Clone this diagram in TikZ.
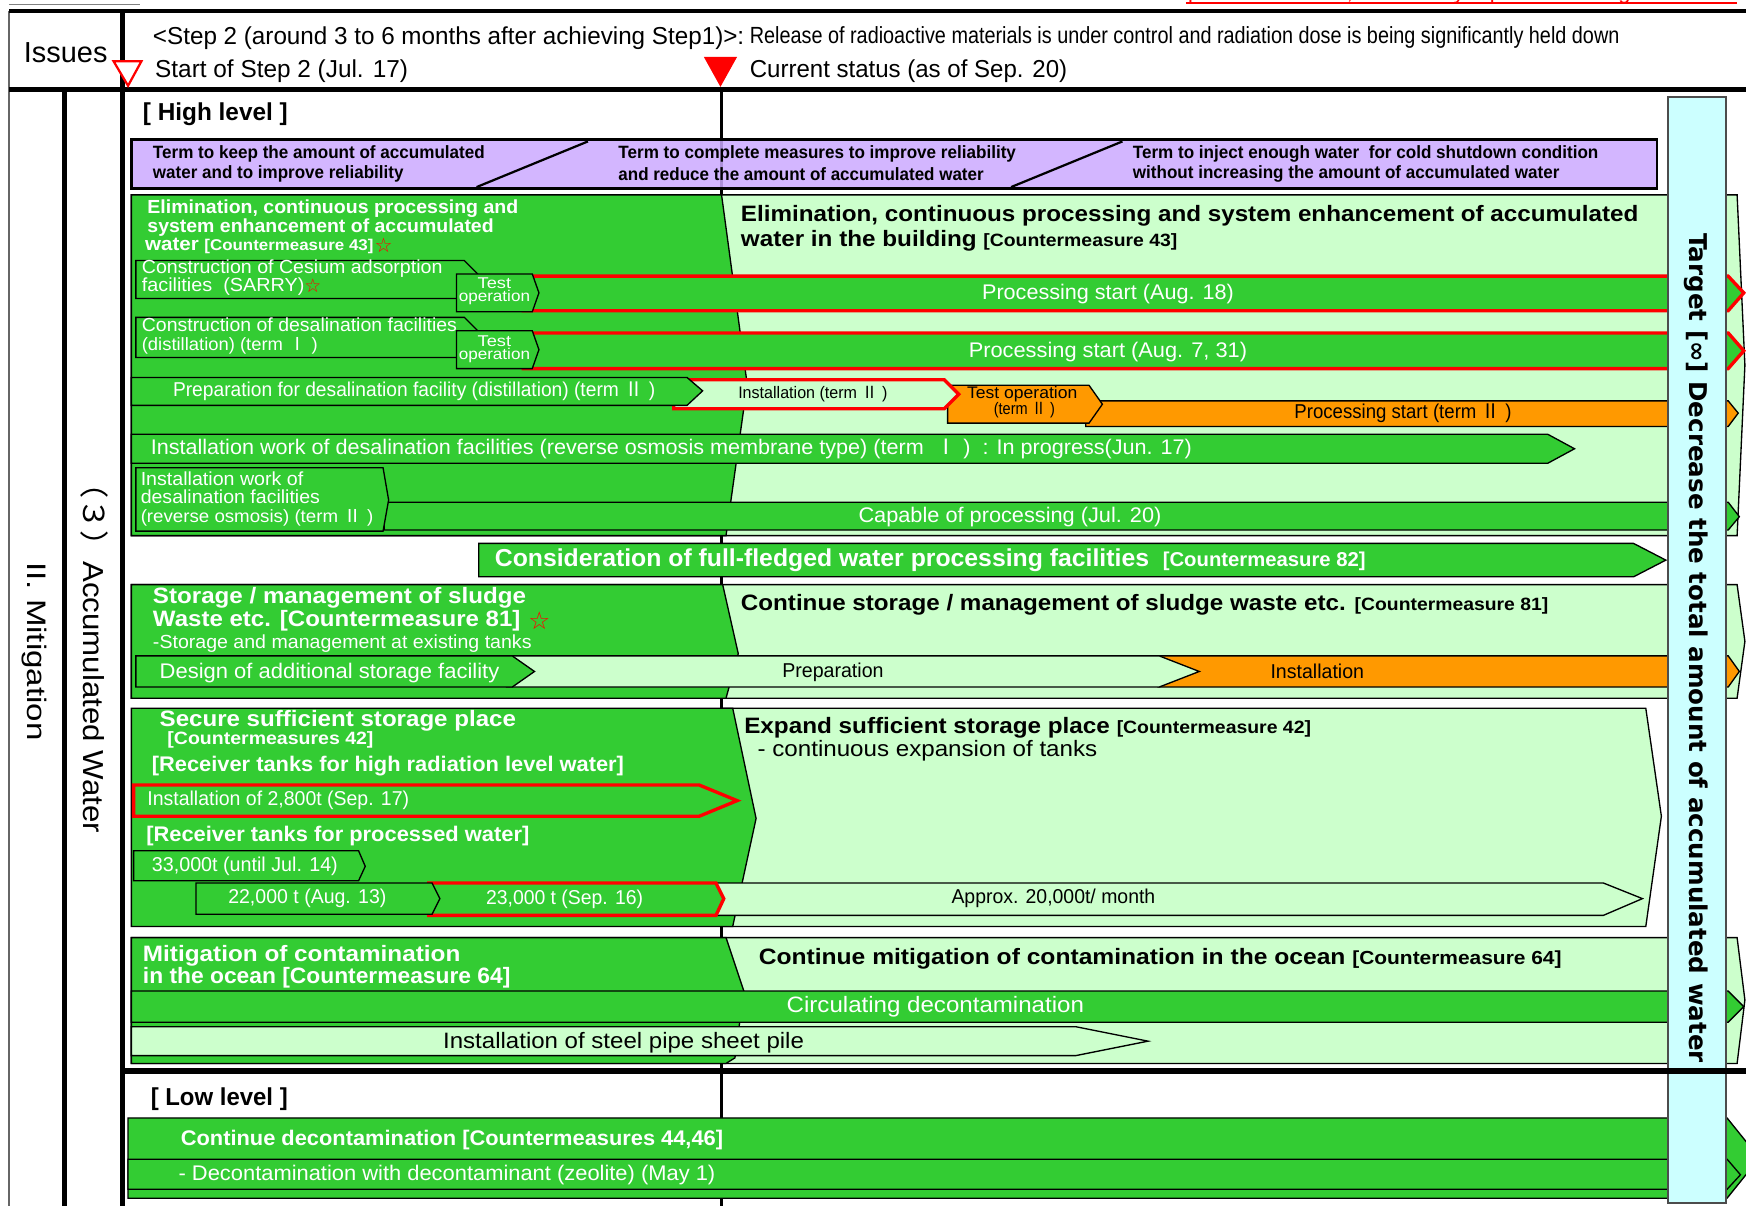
\documentclass[tikz,border=0pt]{standalone}
\usepackage{fontspec}
\usepackage{graphicx}
\setmainfont{Liberation Sans}
\newfontfamily\dvf{DejaVu Sans}
\newfontfamily\cjkf{Noto Sans CJK JP}
\newlength\upx \setlength\upx{0.5pt}
\newcommand\FW[2]{\resizebox{#1\upx}{\height}{#2}}
\newcommand\fsz[1]{\fontsize{#1}{#1}\selectfont}
\newcommand\rI{{\cjkf Ⅰ}}
\newcommand\rII{{\cjkf Ⅱ}}
\newcommand\rstar{{\dvf\color{red}☆}}
\definecolor{dg}{RGB}{51,204,51}
\definecolor{lg}{RGB}{204,255,204}
\definecolor{og}{RGB}{255,153,0}
\definecolor{cy}{RGB}{204,255,255}
\definecolor{pu}{RGB}{204,170,255}
\tikzset{
  ol/.style={draw=black,line width=0.6pt},
  dgf/.style={fill=dg,ol},
  lgf/.style={fill=lg,ol},
  ogf/.style={fill=og,ol},
  redf/.style={draw=red,line width=1.5pt},
  wt/.style={text=white,inner sep=0pt,anchor=west},
  kt/.style={text=black,inner sep=0pt,anchor=west},
  wc/.style={text=white,inner sep=0pt,anchor=center},
  kc/.style={text=black,inner sep=0pt,anchor=center},
}
\begin{document}
\begin{tikzpicture}[x=0.5pt,y=-0.5pt]
\useasboundingbox (0,0) rectangle (1568,1083);
\fill[white] (0,0) rectangle (1568,1083);

% red note at the very top (cut off)
\node[kc,anchor=south,text=red,font=\fsz{9}] (note) at (1312,4) {\FW{490}{previous version, {\dvf ☆}: already reported to the government}};
\draw[red,line width=0.8pt] (1065,3)--(1560,3);

% centre time line
\draw[line width=1.4pt] (648,80)--(648,1083);

% purple term band
\path[fill=pu,fill opacity=0.85,draw=black,line width=1.2pt] (118,125) rectangle (1488,169);
\draw[line width=1pt] (528,127)--(428,168);
\draw[line width=1pt] (1008,127)--(908,168);

% ===== Section 1 =====
\path[lgf] (118,175)--(1560,175)--(1567,328)--(1560,481)--(118,481)--cycle;
\path[dgf] (118,175)--(648,175)--(671,345)--(652,481)--(118,481)--cycle;
% row A
\path[dgf] (122,234)--(417,234)--(430,247)--(430,268)--(122,268)--cycle;
\path[fill=dg,redf] (470,248)--(1552,248)--(1566,263)--(1552,279)--(470,279)--cycle;
\path[dgf] (410,246)--(478,246)--(484,263)--(478,280)--(410,280)--cycle;
% row B
\path[dgf] (122,285)--(417,285)--(430,298)--(430,321)--(122,321)--cycle;
\path[fill=dg,redf] (470,299)--(1552,299)--(1566,315)--(1552,331)--(470,331)--cycle;
\path[dgf] (410,297)--(478,297)--(484,314)--(478,331)--(410,331)--cycle;
% row C
\path[ogf] (975,360)--(1552,360)--(1561,371)--(1552,383)--(975,383)--cycle;
\path[ogf] (851,346)--(978,346)--(990,363)--(978,380)--(851,380)--cycle;
\path[fill=lg,redf] (605,341)--(848,341)--(861,354)--(848,367)--(605,367)--cycle;
\path[dgf] (118,339)--(617,339)--(631,351)--(617,364)--(118,364)--cycle;
% row D
\path[dgf] (118,390)--(1390,390)--(1414,403)--(1390,416)--(118,416)--cycle;
% row E
\path[dgf] (345,451)--(1552,451)--(1562,464)--(1552,476)--(345,476)--cycle;
\path[dgf] (122,420)--(344,420)--(349,449)--(344,477)--(122,477)--cycle;

% ===== Consideration =====
\path[dgf] (430,488)--(1467,488)--(1496,503)--(1467,518)--(430,518)--cycle;

% ===== Section 2 =====
\path[lgf] (118,525)--(1560,525)--(1567,576)--(1560,627)--(118,627)--cycle;
\path[dgf] (118,525)--(649,525)--(663,587)--(652,627)--(118,627)--cycle;
\path[ogf] (1040,589)--(1552,589)--(1562,603)--(1552,617)--(1040,617)--cycle;
\path[lgf] (455,589)--(1041,589)--(1077,603)--(1041,617)--(455,617)--cycle;
\path[dgf] (122,589)--(460,589)--(480,603)--(460,617)--(122,617)--cycle;

% ===== Section 3 =====
\path[lgf] (650,636)--(1478,636)--(1492,733)--(1478,832)--(650,832)--cycle;
\path[dgf] (118,636)--(658,636)--(679,735)--(658,832)--(118,832)--cycle;
\path[fill=dg,redf] (120,705)--(628,705)--(662,719)--(628,733)--(120,733)--cycle;
\path[dgf] (120,764)--(322,764)--(328,778)--(322,791)--(120,791)--cycle;
\path[lgf] (640,793)--(1440,793)--(1475,807)--(1440,822)--(640,822)--cycle;
\path[fill=dg,redf] (385,793)--(643,793)--(650,807)--(643,822)--(385,822)--cycle;
\path[dgf] (176,793)--(388,793)--(395,807)--(388,821)--(176,821)--cycle;

% ===== Section 4 =====
\path[lgf] (118,842)--(1560,842)--(1567,898)--(1560,955)--(118,955)--cycle;
\path[dgf] (118,842)--(652,842)--(668,890)--(660,950)--(652,955)--(118,955)--cycle;
\path[dgf] (118,890)--(1552,890)--(1566,904)--(1552,918)--(118,918)--cycle;
\path[lgf] (118,922)--(966,922)--(1031,935)--(966,948)--(118,948)--cycle;

% ===== Low level =====
\path[dgf] (115,1004)--(1551,1004)--(1580,1040)--(1551,1076)--(115,1076)--cycle;
\path[dgf] (115,1041)--(1551,1041)--(1563,1055)--(1551,1068)--(115,1068)--cycle;

% cyan target column
\path[fill=cy,draw=black!70,line width=0.8pt] (1498,87) rectangle (1550,1080);

% frame
\draw[line width=0.3pt,black!50] (8,4)--(126,4);
\draw[line width=0.6pt,black!60] (8,10)--(8,1083);
\draw[line width=2pt] (8,10)--(1568,10);
\draw[line width=2.2pt] (8,80)--(1568,80);
\draw[line width=2pt] (110,10)--(110,1083);
\draw[line width=2pt] (58,80)--(58,1083);
\draw[line width=2.5pt] (110,962)--(1568,962);

% markers
\path[draw=red,fill=white,line width=1pt] (102,55)--(127,55)--(115,77)--cycle;
\path[fill=red] (632,51)--(662,51)--(647,78)--cycle;

% ===== texts: header =====
\node[kc,font=\fsz{13}] (iss) at (59,47) {\FW{75}{Issues}};
\node[kt,font=\fsz{11}] (h1) at (137,34) {\FW{531}{<Step 2 (around 3 to 6 months after achieving Step1)>:}};
\node[kt,font=\fsz{10.5}] (h2) at (673,34) {\FW{781}{Release of radioactive materials is under control and radiation dose is being significantly held down}};
\node[kt,font=\fsz{11}] (s2) at (139,64) {\FW{227}{Start of Step 2 (Jul. 17)}};
\node[kt,font=\fsz{11}] (cst) at (673,64) {\FW{285}{Current status (as of Sep. 20)}};
\node[kt,font=\bfseries\fsz{11}] (hl) at (128,103) {\FW{130}{[ High level ]}};

% purple
\node[kt,font=\bfseries\fsz{8}] (p1a) at (137,138) {\FW{298}{Term to keep the amount of accumulated}};
\node[kt,font=\bfseries\fsz{8}] (p1b) at (137,156) {\FW{225}{water and to improve reliability}};
\node[kt,font=\bfseries\fsz{8}] (p2a) at (555,138) {\FW{357}{Term to complete measures to improve reliability}};
\node[kt,font=\bfseries\fsz{8}] (p2b) at (555,156) {\FW{328}{and reduce the amount of accumulated water}};
\node[kt,font=\bfseries\fsz{8}] (p3a) at (1017,138) {\FW{418}{Term to inject enough water\ \ for cold shutdown condition}};
\node[kt,font=\bfseries\fsz{8}] (p3b) at (1017,156) {\FW{383}{without increasing the amount of accumulated water}};

% section 1 texts
\node[wt,font=\bfseries\fsz{8.5}] (e1) at (132,187) {\FW{333}{Elimination, continuous processing and}};
\node[wt,font=\bfseries\fsz{8.5}] (e2) at (132,204) {\FW{311}{system enhancement of accumulated}};
\node[wt,font=\bfseries\fsz{8.5}] (e3) at (130,221) {\FW{205}{water {\fsz{7}[Countermeasure 43]}}};
\node[kt,font=\fsz{9}] (e3s) at (336,220) {\rstar};
\node[kt,font=\bfseries\fsz{10}] (E1) at (665,194) {\FW{806}{Elimination, continuous processing and system enhancement of accumulated}};
\node[kt,font=\bfseries\fsz{10}] (E2) at (665,216) {\FW{392}{water in the building {\fsz{8}[Countermeasure 43]}}};

\node[wt,font=\fsz{8.5}] (ca1) at (127,241) {\FW{270}{Construction of Cesium adsorption}};
\node[wt,font=\fsz{8.5}] (ca2) at (127,257) {\FW{146}{facilities\ \ (SARRY)}};
\node[kt,font=\fsz{8.5}] (ca2s) at (273,257) {\rstar};
\node[wc,font=\fsz{7}] (ta1) at (444,254) {\FW{30}{Test}};
\node[wc,font=\fsz{7}] (ta2) at (444,267) {\FW{64}{operation}};
\node[wc,font=\fsz{9.5}] (pa) at (995,264) {\FW{226}{Processing start (Aug. 18)}};

\node[wt,font=\fsz{8.5}] (cb1) at (127,292) {\FW{283}{Construction of desalination facilities}};
\node[wt,font=\fsz{8}] (cb2) at (127,311) {\FW{158}{(distillation) (term \rI\ )}};
\node[wc,font=\fsz{7}] (tb1) at (444,306) {\FW{30}{Test}};
\node[wc,font=\fsz{7}] (tb2) at (444,319) {\FW{64}{operation}};
\node[wc,font=\fsz{9.5}] (pb) at (995,316) {\FW{250}{Processing start (Aug. 7, 31)}};

\node[wt,font=\fsz{9}] (pc) at (155,351) {\FW{433}{Preparation for desalination facility (distillation) (term \rII\ )}};
\node[kc,font=\fsz{7.5}] (ic) at (730,354) {\FW{134}{Installation (term \rII\ )}};
\node[kc,font=\fsz{7.5}] (toc1) at (918,354) {\FW{99}{Test operation}};
\node[kc,font=\fsz{7.5}] (toc2) at (920,368) {\FW{55}{(term \rII\ )}};
\node[kc,font=\fsz{9}] (psc) at (1260,371) {\FW{195}{Processing start (term \rII\ )}};

\node[wt,font=\fsz{9.5}] (rd) at (135,403) {\FW{935}{Installation work of desalination facilities (reverse osmosis membrane type) (term\ \ \rI\ )\ \ : In progress(Jun. 17)}};

\node[wt,font=\fsz{8.5}] (re1) at (126,430) {\FW{146}{Installation work of}};
\node[wt,font=\fsz{8.5}] (re2) at (126,446) {\FW{161}{desalination facilities}};
\node[wt,font=\fsz{8}] (re3) at (126,465) {\FW{209}{(reverse osmosis) (term \rII\ )}};
\node[wc,font=\fsz{9.5}] (cp) at (907,464) {\FW{272}{Capable of processing (Jul. 20)}};

\node[wt,font=\bfseries\fsz{11}] (cf) at (444,503) {\FW{782}{Consideration of full-fledged water processing facilities\ \ {\fsz{9}[Countermeasure 82]}}};

% section 2 texts
\node[wt,font=\bfseries\fsz{10}] (sm1) at (137,537) {\FW{335}{Storage / management of sludge}};
\node[wt,font=\bfseries\fsz{10}] (sm2) at (137,557) {\FW{330}{Waste etc. [Countermeasure 81]}};
\node[kt,font=\fsz{11}] (sm2s) at (474,557) {\rstar};
\node[wt,font=\fsz{8.5}] (sm3) at (137,578) {\FW{340}{-Storage and management at existing tanks}};
\node[kt,font=\bfseries\fsz{10}] (cs2) at (665,543) {\FW{725}{Continue storage / management of sludge waste etc. {\fsz{8}[Countermeasure 81]}}};
\node[wt,font=\fsz{9.5}] (ds) at (143,604) {\FW{305}{Design of additional storage facility}};
\node[kc,font=\fsz{9}] (pr) at (748,604) {\FW{91}{Preparation}};
\node[kc,font=\fsz{9}] (ins) at (1183,603) {\FW{84}{Installation}};

% section 3 texts
\node[wt,font=\bfseries\fsz{10}] (ss1) at (143,647) {\FW{320}{Secure sufficient storage place}};
\node[wt,font=\bfseries\fsz{8}] (ss2) at (150,664) {\FW{185}{[Countermeasures 42]}};
\node[wt,font=\bfseries\fsz{9.5}] (ss3) at (136,688) {\FW{424}{[Receiver tanks for high radiation level water]}};
\node[wt,font=\fsz{9}] (i28) at (132,719) {\FW{235}{Installation of 2,800t (Sep. 17)}};
\node[wt,font=\bfseries\fsz{9.5}] (ss4) at (131,751) {\FW{344}{[Receiver tanks for processed water]}};
\node[wt,font=\fsz{9}] (t33) at (136,778) {\FW{167}{33,000t (until Jul. 14)}};
\node[wc,font=\fsz{9}] (t22) at (276,807) {\FW{142}{22,000 t (Aug. 13)}};
\node[wc,font=\fsz{9}] (t23) at (507,808) {\FW{141}{23,000 t (Sep. 16)}};
\node[kc,font=\fsz{9}] (ap) at (946,807) {\FW{183}{Approx. 20,000t/ month}};
\node[kt,font=\bfseries\fsz{10}] (ex1) at (668,654) {\FW{509}{Expand sufficient storage place {\fsz{8}[Countermeasure 42]}}};
\node[kt,font=\fsz{10}] (ex2) at (680,674) {\FW{305}{- continuous expansion of tanks}};

% section 4 texts
\node[wt,font=\bfseries\fsz{10}] (mc1) at (128,858) {\FW{285}{Mitigation of contamination}};
\node[wt,font=\bfseries\fsz{10}] (mc2) at (128,878) {\FW{330}{in the ocean [Countermeasure 64]}};
\node[kt,font=\bfseries\fsz{10}] (cm) at (681,861) {\FW{721}{Continue mitigation of contamination in the ocean {\fsz{8.5}[Countermeasure 64]}}};
\node[wc,font=\fsz{10}] (cd) at (840,904) {\FW{267}{Circulating decontamination}};
\node[kc,font=\fsz{10}] (sp) at (560,936) {\FW{324}{Installation of steel pipe sheet pile}};

% low level texts
\node[kt,font=\bfseries\fsz{11}] (ll) at (135,987) {\FW{123}{[ Low level ]}};
\node[wt,font=\bfseries\fsz{9.5}] (cdc) at (162,1024) {\FW{487}{Continue decontamination [Countermeasures 44,46]}};
\node[wt,font=\fsz{9.5}] (dz) at (160,1055) {\FW{482}{- Decontamination with decontaminant (zeolite) (May 1)}};

% vertical labels
\node[kc,font=\fsz{12},rotate=-90] (mit) at (31,585) {\FW{160}{II. Mitigation}};
\node[kc,font=\fsz{13},rotate=-90] (aw) at (85,584) {\FW{328}{{\cjkf （３）}Accumulated Water}};
\node[kc,font=\dvf\bfseries\fsz{11},rotate=-90] (tg) at (1523,582) {\FW{745}{Target [∞] Decrease the total amount of accumulated water}};
\end{tikzpicture}
\end{document}
